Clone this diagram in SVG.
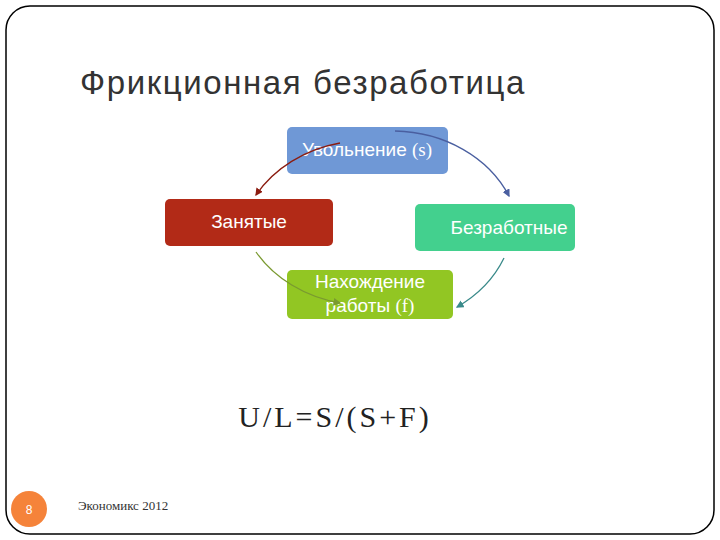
<svg xmlns="http://www.w3.org/2000/svg" width="720" height="540" viewBox="0 0 720 540">
<defs>
<style>
.t{font-family:"Liberation Sans",Arial,sans-serif;fill:#fff;font-size:19px;text-anchor:middle}
.a{fill:none;stroke-width:1.3}
</style>
<marker id="mb" markerWidth="6" markerHeight="6" refX="5" refY="3" orient="auto"><path d="M0,0L6,3L0,6z" fill="#4a5fa0"/></marker>
<marker id="mr" markerWidth="6" markerHeight="6" refX="5" refY="3" orient="auto"><path d="M0,0L6,3L0,6z" fill="#8b1c10"/></marker>
<marker id="mg" markerWidth="6" markerHeight="6" refX="5" refY="3" orient="auto"><path d="M0,0L6,3L0,6z" fill="#7a9a30"/></marker>
<marker id="mt" markerWidth="6" markerHeight="6" refX="5" refY="3" orient="auto"><path d="M0,0L6,3L0,6z" fill="#3a8a8a"/></marker>
</defs>
<rect width="720" height="540" fill="#fff"/>
<rect x="6" y="6" width="708" height="528" rx="24" fill="none" stroke="#000" stroke-width="1.5"/>
<text x="80" y="94" font-family="'Liberation Sans',Arial,sans-serif" font-size="33" letter-spacing="1.6" fill="#333">Фрикционная безработица</text>
<g id="n1"><rect x="287" y="127" width="161" height="47" rx="5" fill="#6f98d6"/><text class="t" x="367" y="156">Увольнение <tspan font-family="'Liberation Serif',serif">(s)</tspan></text></g>
<g id="n2"><rect x="165" y="199" width="168" height="47" rx="5" fill="#b22a17"/><text class="t" x="249" y="228">Занятые</text></g>
<g id="n3"><rect x="415" y="204" width="160" height="47" rx="5" fill="#43d08e"/><text class="t" x="509" y="234">Безработные</text></g>
<g id="n4"><rect x="287" y="270" width="166" height="49" rx="5" fill="#92c623"/><text class="t" x="370" y="288">Нахождение</text><text class="t" x="370" y="312">работы <tspan font-family="'Liberation Serif',serif">(f)</tspan></text></g>
<g id="connectors">
<path class="a" stroke="#4a5fa0" d="M395,131 A128,110 0 0 1 509,196" marker-end="url(#mb)"/>
<path class="a" stroke="#8b1c10" d="M340,143 A128,110 0 0 0 256,195" marker-end="url(#mr)"/>
<path class="a" stroke="#7a9a30" d="M256,252 A128,110 0 0 0 340,303" marker-end="url(#mg)"/>
<path class="a" stroke="#3a8a8a" d="M504,258 A128,110 0 0 1 457,307" marker-end="url(#mt)"/>
</g>
<text x="335" y="427" font-family="'Liberation Serif',serif" font-size="30" letter-spacing="3" fill="#222" text-anchor="middle">U/L=S/(S+F)</text>
<circle cx="29" cy="509" r="18" fill="#f5833a"/>
<text x="29" y="514" font-family="'Liberation Sans',sans-serif" font-size="12" fill="#fff" text-anchor="middle">8</text>
<text x="78" y="510" font-family="'Liberation Serif',serif" font-size="13" fill="#333">Экономикс 2012</text>
</svg>
